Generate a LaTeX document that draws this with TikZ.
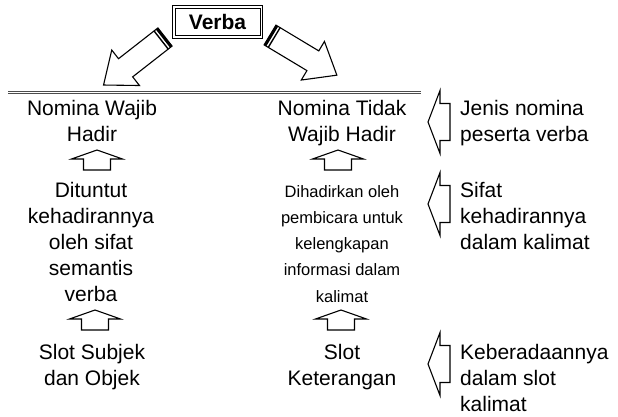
\documentclass[tikz,border=0pt]{standalone}
\usepackage{fontspec}
\setmainfont{Liberation Sans}
\newcommand\mlines[1]{\begin{tabular}[t]{@{}c@{}}#1\end{tabular}}
\newcommand\llines[1]{\begin{tabular}[t]{@{}l@{}}#1\end{tabular}}
\begin{document}
\begin{tikzpicture}[x=1pt,y=-1pt,
  txt/.style={inner sep=0pt, anchor=base, font=\fontsize{21}{26}\selectfont},
  rtxt/.style={inner sep=0pt, anchor=base west, font=\fontsize{21}{26}\selectfont},
  smalltxt/.style={inner sep=0pt, anchor=base, font=\fontsize{16.5}{26.3}\selectfont},
  hline/.style={draw=black!70, line width=0.9pt, double=white, double distance=1.1pt},
  boxline/.style={draw=black, line width=0.8pt},
  blk/.style={draw=black, line width=1.1pt, fill=white, line join=miter},
  uparrow/.pic={\draw[blk] (-13.5,0) -- (-13.5,-11) -- (-25.5,-11) -- (0,-20) -- (25.5,-11) -- (13.5,-11) -- (13.5,0) -- cycle;},
  leftarrow/.pic={\draw[blk] (0,0) -- (12,-31.5) -- (12,-18.5) -- (22,-18.5) -- (22,18.5) -- (12,18.5) -- (12,31.5) -- cycle;},
  bigarrow/.pic={
    \draw[blk] (0,-11.5) -- (50,-11.5) -- (50,-22.5) -- (78,0) -- (50,22.5) -- (50,11.5) -- (0,11.5) -- cycle;
    \draw[line width=2.6pt] (1.3,-11.5) -- (1.3,11.5);
    \draw[line width=1.4pt] (4.9,-11.5) -- (4.9,11.5);}
]
\useasboundingbox (0,0) rectangle (618,417);

% title with double frame
\node[inner sep=0pt, minimum width=90pt, minimum height=32pt,
      font=\bfseries\fontsize{21}{26}\selectfont] (verba) at (217.5,22) {Verba};
\draw[boxline] (verba.south west) rectangle (verba.north east);
\draw[boxline] ([shift={(2.6,-2.6)}]verba.south west) rectangle ([shift={(-2.6,2.6)}]verba.north east);

% big arrows from the title
\pic[rotate=218] at (165,37) {bigarrow};
\pic[rotate=-31] at (270,35) {bigarrow};

% separator lines
\coordinate (l1a) at (8,92.5);  \coordinate (l1b) at (421,92.5);
\coordinate (l2a) at (8,173);   \coordinate (l2b) at (421,173);
\coordinate (l3a) at (8,335);   \coordinate (l3b) at (421,335);
\draw[hline] (l1a) -- (l1b);
\draw[hline] (l2a) -- (l2b);
\draw[hline] (l3a) -- (l3b);

% row 1
\node[txt] (n1) at (92,116) {\mlines{Nomina Wajib\\Hadir}};
\node[txt] (n2) at (342,116) {\mlines{Nomina Tidak\\Wajib Hadir}};
\node[rtxt] (r1) at (460,116) {\llines{Jenis nomina\\peserta verba}};

% row 2
\node[txt] (s1) at (91,197) {\mlines{Dituntut\\kehadirannya\\oleh sifat\\semantis\\verba}};
\node[smalltxt] (s2) at (342,197) {\mlines{Dihadirkan oleh\\pembicara untuk\\kelengkapan\\informasi dalam\\kalimat}};
\node[rtxt] (r2) at (460,197) {\llines{Sifat\\kehadirannya\\dalam kalimat}};

% row 3
\node[txt] (k1) at (92,359) {\mlines{Slot Subjek\\dan Objek}};
\node[txt] (k2) at (342,359) {\mlines{Slot\\Keterangan}};
\node[rtxt] (r3) at (460,359) {\llines{Keberadaannya\\dalam slot\\kalimat}};

% up arrows
\pic at (97,170) {uparrow};
\pic at (338,170) {uparrow};
\pic at (95,330) {uparrow};
\pic at (341,330) {uparrow};

% left arrows
\pic at (428,122) {leftarrow};
\pic at (428,204) {leftarrow};
\pic at (428,364) {leftarrow};
\end{tikzpicture}
\end{document}
